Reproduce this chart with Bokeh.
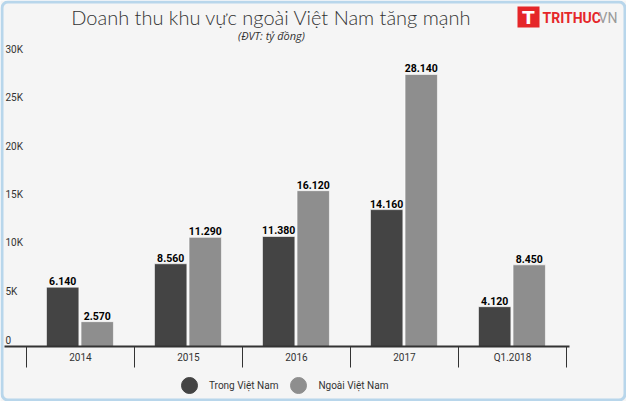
from bokeh.plotting import figure
from bokeh.models import (Range1d, LinearAxis, FixedTicker, Label, BoxAnnotation,
                          Legend, LegendItem, ColumnDataSource)
from bokeh.core.properties import value
from bokeh.embed import file_html
from bokeh.resources import INLINE

# ---------------- data ----------------
categories = ["2014", "2015", "2016", "2017", "Q1.2018"]
trong_vn = [6140, 8560, 11380, 14160, 4120]
ngoai_vn = [2570, 11290, 16120, 28140, 8450]
series_names = ["Trong Việt Nam", "Ngoài Việt Nam"]
y_ticks = [0, 5000, 10000, 15000, 20000, 25000, 30000]
y_tick_labels = ["0", "5K", "10K", "15K", "20K", "25K", "30K"]
title_text = "Doanh thu khu vực ngoài Việt Nam tăng mạnh"
subtitle_text = "(ĐVT: tỷ đồng)"

# ---------------- layout constants (pixels) ----------------
W, H = 626, 401
CAT_X0, CAT_W = 26, 108          # first category boundary (px) and category width (px)
BASE_Y = 346                     # pixel row of value 0
PX_PER_UNIT = 290 / 30000        # pixels per unit of value

def px_x(px):
    return (px - CAT_X0) / CAT_W

def px_y(py):
    return (BASE_Y - py) / PX_PER_UNIT

BG = "#f5f5f5"
DARK = "#444444"
LIGHT = "#8e8e8e"
TXT = "#333333"
FONT = "Roboto"
NAN = float("nan")

p = figure(width=W, height=H, title=None,
           x_range=Range1d(px_x(0), px_x(W)), y_range=Range1d(px_y(H), px_y(0)),
           x_axis_location=None, y_axis_location=None,
           min_border=0, min_border_left=0, min_border_right=0,
           min_border_top=0, min_border_bottom=0,
           toolbar_location=None, output_backend="svg",
           background_fill_color=BG, border_fill_color=BG,
           outline_line_color=None)
p.grid.visible = False

# ---------------- x axis: ticks at category boundaries, labels at centres ----------------
n = len(categories)
centers = [i + 0.5 for i in range(n)]
axis_bounds = (px_x(4), px_x(569))
tick_axis = LinearAxis(
    fixed_location=0, bounds=axis_bounds,
    ticker=FixedTicker(ticks=list(range(n + 1)), minor_ticks=[]),
    major_tick_in=0, major_tick_out=21, major_tick_line_color=TXT, major_tick_line_width=1,
    minor_tick_line_color=None,
    axis_line_color=TXT, axis_line_width=2,
    major_label_text_alpha=0, major_label_text_font_size="1px",
)
label_axis = LinearAxis(
    fixed_location=0,
    ticker=FixedTicker(ticks=centers, minor_ticks=[]),
    major_label_overrides={c: cat for c, cat in zip(centers, categories)},
    major_tick_in=0, major_tick_out=0, major_tick_line_color=None,
    minor_tick_line_color=None, axis_line_color=None,
    major_label_standoff=5,
    major_label_text_font=FONT, major_label_text_font_size="10px",
    major_label_text_color=TXT,
)
p.add_layout(tick_axis, "below")
p.add_layout(label_axis, "below")

# ---------------- y labels (inside plot, just above tick values) ----------------
ysrc = ColumnDataSource(dict(x=[px_x(5)] * len(y_ticks), y=y_ticks, t=y_tick_labels))
p.text(x="x", y="y", text="t", source=ysrc, text_align="left", text_baseline="middle",
       y_offset=-7, text_font=value(FONT), text_font_size="10px", text_color=TXT)

# ---------------- bars ----------------
BW = 0.30
xd = [c - 0.165 for c in centers]
xl = [c + 0.155 for c in centers]
fmt = lambda v: f"{v:,}".replace(",", ".")

s1 = ColumnDataSource(dict(x=xd, top=trong_vn, lab=[fmt(v) for v in trong_vn]))
s2 = ColumnDataSource(dict(x=xl, top=ngoai_vn, lab=[fmt(v) for v in ngoai_vn]))
p.vbar(x="x", top="top", bottom=0, width=BW, source=s1, fill_color=DARK, line_color="#ffffff", line_width=0.6)
p.vbar(x="x", top="top", bottom=0, width=BW, source=s2, fill_color=LIGHT, line_color="#ffffff", line_width=0.6)
for s in (s1, s2):
    p.text(x="x", y="top", text="lab", source=s, text_align="center", text_baseline="bottom",
           y_offset=-2, text_font=value(FONT), text_font_style="bold",
           text_font_size="10.5px", text_color="#000000")

# ---------------- legend (circle swatches) ----------------
r1 = p.scatter(x=[NAN], y=[NAN], marker="circle", fill_color=DARK, line_color=DARK)
r2 = p.scatter(x=[NAN], y=[NAN], marker="circle", fill_color=LIGHT, line_color=LIGHT)
legend = Legend(items=[LegendItem(label=series_names[0], renderers=[r1], index=0),
                       LegendItem(label=series_names[1], renderers=[r2], index=0)],
                orientation="horizontal", location=(169, -4),
                glyph_width=40, glyph_height=40, label_standoff=-4, spacing=-9,
                padding=0, margin=0, border_line_color=None, background_fill_alpha=0,
                label_text_font=FONT, label_text_font_size="10px", label_text_color=TXT)
p.add_layout(legend, "center")

# ---------------- titles ----------------
p.add_layout(Label(x=px_x(271), y=px_y(16), text=title_text,
                   text_align="center", text_baseline="middle",
                   text_font="'Lato Light', 'Lato'",
                   text_font_size="20px", text_color="#333333"))
p.add_layout(Label(x=px_x(271), y=px_y(35), text=subtitle_text,
                   text_align="center", text_baseline="middle", text_font="Open Sans",
                   text_font_style="italic", text_font_size="11px", text_color=TXT))

# ---------------- logo ----------------
p.add_layout(BoxAnnotation(left=px_x(517), right=px_x(539), top=px_y(6), bottom=px_y(27),
                           fill_color="#e52629", fill_alpha=1, line_color=None))
p.add_layout(Label(x=px_x(528), y=px_y(17), text="T",
                   text_align="center", text_baseline="middle", text_font="DejaVu Sans",
                   text_font_style="bold", text_font_size="18px", text_color="#ffffff"))
p.add_layout(Label(x=px_x(542), y=px_y(17), text="TRITHUC",
                   text_align="left", text_baseline="middle", text_font="Roboto",
                   text_font_style="bold", text_font_size="14px", text_color="#e52629"))
p.add_layout(Label(x=px_x(598), y=px_y(17), text="VN",
                   text_align="left", text_baseline="middle", text_font="Roboto",
                   text_font_size="14px", text_color="#9a9a9a"))

# ---------------- border ----------------
p.add_layout(BoxAnnotation(left=px_x(1.5), right=px_x(W - 1.5), top=px_y(1.5), bottom=px_y(H - 1.5),
                           fill_alpha=0, line_color="#2b8fd4", line_width=3,
                           border_radius=6))

open("out.html", "w").write(file_html(p, INLINE))
